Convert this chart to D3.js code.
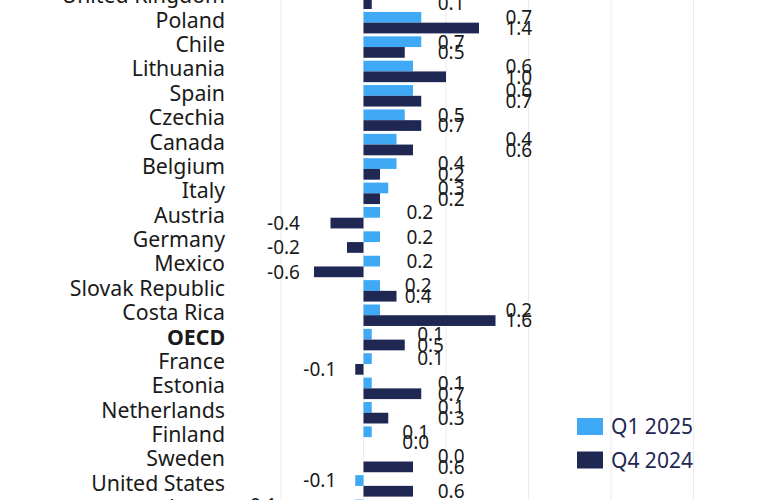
<!DOCTYPE html>
<html>
<head>
<meta charset="utf-8">
<script src="https://cdn.jsdelivr.net/npm/d3@7"></script>
<style>
  body { margin: 0; background: #fff; }
  svg { display: block; font-family: "Noto Sans", "Open Sans", sans-serif; }
</style>
</head>
<body>
<svg></svg>
<script>
width = 765;
height = 500;

countries = ['United Kingdom', 'Poland', 'Chile', 'Lithuania', 'Spain', 'Czechia', 'Canada',
  'Belgium', 'Italy', 'Austria', 'Germany', 'Mexico', 'Slovak Republic', 'Costa Rica',
  'OECD', 'France', 'Estonia', 'Netherlands', 'Finland', 'Sweden', 'United States', 'Japan'];
q1_2025 = [0.7, 0.7, 0.7, 0.6, 0.6, 0.5, 0.4, 0.4, 0.3, 0.2, 0.2, 0.2, 0.2, 0.2,
  0.1, 0.1, 0.1, 0.1, 0.1, 0.0, -0.1, -0.1];
q4_2024 = [0.1, 1.4, 0.5, 1.0, 0.7, 0.7, 0.6, 0.2, 0.2, -0.4, -0.2, -0.6, 0.4, 1.6,
  0.5, -0.1, 0.7, 0.3, 0.0, 0.6, 0.6, 0.6];
series = ['Q1 2025', 'Q4 2024'];
gridTicks = [-1, 0, 1, 2, 3, 4];

// where the value labels sit in the reference (axis units): positive labels start, negative ones end
labelPos = [0.9, 1.72, 0.9, 1.72, 1.72, 0.9, 1.72, 0.9, 0.9, 0.52, 0.52, 0.52, 0.5, 1.72,
  0.65, 0.65, 0.9, 0.9, 0.47, 0.9, 0.9, 0.9];
labelNeg = [0, 0, 0, 0, 0, 0, 0, 0, 0, -0.77, -0.77, -0.77, 0, 0,
  0, -0.33, 0, 0, 0, 0, -0.33, -1.05];

colors = { 'Q1 2025': '#3fa9f5', 'Q4 2024': '#1f2753' };

svg = d3.select('svg')
  .attr('width', width)
  .attr('height', height);

x = d3.scaleLinear().domain([-1, 4]).range([281, 693.5]);

step = 24.38;
y = d3.scaleBand()
  .domain(countries)
  .range([-13.9, -13.9 + step * countries.length])
  .paddingInner(0.12)
  .paddingOuter(0.06);

ySub = d3.scaleBand().domain(series).range([0, y.bandwidth()]);

data = countries.map((c, i) => ({
  country: c,
  i: i,
  values: [
    { key: 'Q1 2025', value: q1_2025[i] },
    { key: 'Q4 2024', value: q4_2024[i] }
  ]
}));

// grid
svg.append('g')
  .selectAll('line')
  .data(gridTicks)
  .enter().append('line')
  .attr('x1', d => x(d)).attr('x2', d => x(d))
  .attr('y1', 0).attr('y2', height)
  .attr('stroke', '#ececec')
  .attr('stroke-width', 1);

// category labels
svg.append('g')
  .selectAll('text')
  .data(data)
  .enter().append('text')
  .attr('x', 225)
  .attr('y', d => y(d.country) + y.bandwidth() / 2 - 2.5)
  .attr('dy', '0.35em')
  .attr('text-anchor', 'end')
  .attr('font-size', 21.3)
  .attr('font-weight', d => d.country === 'OECD' ? 'bold' : 'normal')
  .attr('fill', '#1a1a1a')
  .text(d => d.country);

rows = svg.append('g')
  .selectAll('g')
  .data(data)
  .enter().append('g')
  .attr('transform', d => `translate(0, ${y(d.country)})`);

rows.selectAll('rect')
  .data(d => d.values)
  .enter().append('rect')
  .attr('x', d => x(Math.min(0, d.value)))
  .attr('width', d => Math.abs(x(d.value) - x(0)))
  .attr('y', d => ySub(d.key))
  .attr('height', ySub.bandwidth())
  .attr('fill', d => colors[d.key]);

rows.selectAll('text')
  .data(d => d.values.map(v => ({ ...v, i: d.i })))
  .enter().append('text')
  .attr('x', d => d.value < 0 ? x(labelNeg[d.i]) : x(labelPos[d.i]))
  .attr('y', d => ySub(d.key) + ySub.bandwidth() / 2)
  .attr('dy', '0.36em')
  .attr('text-anchor', d => d.value < 0 ? 'end' : 'start')
  .attr('font-size', 19)
  .attr('fill', '#1a1a1a')
  .text(d => d.value.toFixed(1));

// legend
legend = svg.append('g')
  .selectAll('g')
  .data(series)
  .enter().append('g')
  .attr('transform', (d, i) => `translate(577, ${418 + i * 33.5})`);

legend.append('rect')
  .attr('width', 26)
  .attr('height', 17)
  .attr('fill', d => colors[d]);

legend.append('text')
  .attr('x', 34)
  .attr('y', 8.5)
  .attr('dy', '0.36em')
  .attr('font-size', 21)
  .attr('fill', '#1f2753')
  .text(d => d);
</script>
</body>
</html>
